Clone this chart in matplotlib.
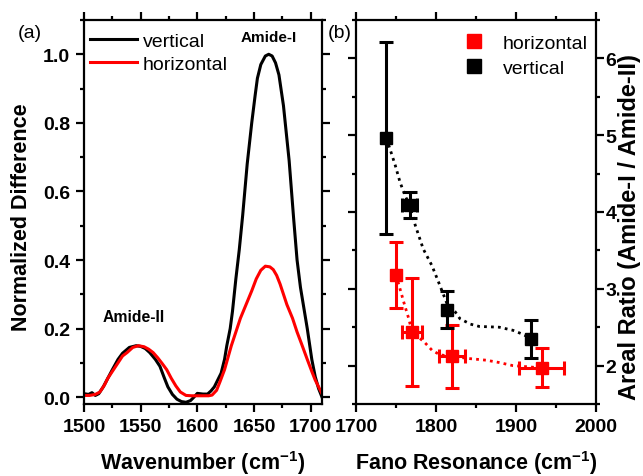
import matplotlib
matplotlib.use("Agg")
import matplotlib.pyplot as plt
from matplotlib.ticker import MultipleLocator
from matplotlib.lines import Line2D

plt.rcParams['font.family'] = ['Liberation Sans', 'DejaVu Sans']
plt.rcParams['mathtext.fontset'] = 'custom'
plt.rcParams['mathtext.rm'] = 'Liberation Sans'
plt.rcParams['mathtext.bf'] = 'Liberation Sans:bold'

# ---------------- Panel (a) data ----------------
wn_vertical = [1500, 1504, 1507, 1510, 1513, 1517, 1521, 1525, 1530, 1534, 1540, 1546,
               1550, 1554, 1558, 1563, 1567, 1571, 1574, 1578, 1582, 1586, 1590, 1594,
               1597, 1600, 1605, 1609, 1612, 1615, 1618, 1621, 1624, 1626, 1629, 1631,
               1634, 1637, 1640, 1644, 1648, 1651, 1653, 1656, 1660, 1663, 1666, 1669,
               1672, 1676, 1681, 1685, 1688, 1691, 1694, 1697, 1701, 1704, 1707, 1710]
nd_vertical = [0.010, 0.008, 0.013, 0.005, 0.010, 0.030, 0.055, 0.080, 0.110, 0.128, 0.145, 0.150,
               0.148, 0.142, 0.130, 0.110, 0.090, 0.055, 0.030, 0.008, -0.006, -0.013, -0.015, -0.010,
               0.000, 0.011, 0.009, 0.009, 0.018, 0.030, 0.050, 0.070, 0.110, 0.150, 0.200, 0.250,
               0.345, 0.430, 0.530, 0.680, 0.800, 0.880, 0.930, 0.970, 0.995, 1.000, 0.995, 0.975,
               0.940, 0.850, 0.690, 0.520, 0.400, 0.320, 0.260, 0.200, 0.110, 0.060, 0.025, 0.000]

wn_horizontal = [1500, 1505, 1510, 1514, 1518, 1521, 1525, 1530, 1534, 1538, 1543, 1548,
                 1553, 1557, 1561, 1565, 1569, 1573, 1577, 1581, 1585, 1590, 1595, 1600,
                 1605, 1610, 1613, 1617, 1620, 1624, 1627, 1630, 1634, 1638, 1643, 1648,
                 1652, 1656, 1660, 1664, 1667, 1670, 1673, 1676, 1679, 1684, 1688, 1692,
                 1697, 1701, 1704, 1707, 1710]
nd_horizontal = [0.005, 0.005, 0.008, 0.015, 0.035, 0.055, 0.075, 0.100, 0.120, 0.130, 0.145, 0.150,
                 0.147, 0.140, 0.130, 0.115, 0.098, 0.080, 0.055, 0.033, 0.015, 0.005, 0.004, 0.004,
                 0.004, 0.004, 0.006, 0.020, 0.045, 0.080, 0.115, 0.150, 0.190, 0.230, 0.270, 0.310,
                 0.345, 0.370, 0.382, 0.380, 0.372, 0.355, 0.330, 0.300, 0.270, 0.230, 0.190, 0.155,
                 0.110, 0.075, 0.050, 0.030, 0.010]

# ---------------- Panel (b) data ----------------
fano_vertical = [1738, 1767, 1814, 1919]
ratio_vertical = [4.96, 4.09, 2.73, 2.35]
yerr_vertical = [1.25, 0.17, 0.235, 0.25]
xerr_vertical = [0, 9, 0, 0]

fano_horizontal = [1750, 1770, 1820, 1932]
ratio_horizontal = [3.18, 2.44, 2.12, 1.97]
yerr_horizontal = [0.43, 0.70, 0.41, 0.255]
xerr_horizontal = [0, 12, 16, 28]

# dotted guide curves
guide_v_x = [1738, 1742.5, 1749, 1755, 1761, 1767, 1774, 1784, 1795, 1805, 1814,
             1824, 1830, 1843, 1854, 1879, 1896, 1908, 1919]
guide_v_y = [4.96, 4.82, 4.61, 4.39, 4.22, 4.09, 3.83, 3.52, 3.30, 3.04, 2.80,
             2.70, 2.61, 2.54, 2.51, 2.50, 2.46, 2.41, 2.35]
guide_h_x = [1750, 1755, 1761, 1766, 1770, 1786, 1795, 1805, 1820, 1843, 1863, 1879, 1896, 1932]
guide_h_y = [3.18, 3.00, 2.78, 2.61, 2.44, 2.30, 2.20, 2.14, 2.12, 2.09, 2.07, 2.04, 2.00, 1.97]

fig = plt.figure(figsize=(6.43, 4.77), dpi=100)
W, H = 643, 477
ax1 = fig.add_axes([84 / W, 1 - 405 / H, (322 - 84) / W, (405 - 21) / H])
ax2 = fig.add_axes([356 / W, 1 - 405 / H, (596 - 356) / W, (405 - 21) / H])

for ax in (ax1, ax2):
    for s in ax.spines.values():
        s.set_linewidth(1.6)
    ax.tick_params(which='major', direction='out', length=6, width=1.6,
                   labelsize=14, pad=4)
    ax.tick_params(which='minor', direction='out', length=3.2, width=1.6)
    ax.tick_params(which='both', top=True, right=True, left=True, bottom=True)

# ---- panel (a)
ax1.plot(wn_vertical, nd_vertical, color='black', lw=2.2, label='vertical')
ax1.plot(wn_horizontal, nd_horizontal, color='#ff0000', lw=2.2, label='horizontal')
ax1.set_xlim(1500, 1710)
ax1.set_ylim(-0.02, 1.10)
ax1.xaxis.set_minor_locator(MultipleLocator(25))
ax1.yaxis.set_minor_locator(MultipleLocator(0.1))
ax1.set_yticks([0.0, 0.2, 0.4, 0.6, 0.8, 1.0])
ax1.set_yticklabels(['0.0', '0.2', '0.4', '0.6', '0.8', '1.0'], fontweight='bold')
ax1.set_xticks([1500, 1550, 1600, 1650, 1700])
ax1.set_xticklabels(['1500', '1550', '1600', '1650', '1700'], fontweight='bold')
ax1.set_xlabel(r'Wavenumber (cm$^{\mathbf{-1}}$)', fontsize=15.5, fontweight='bold', labelpad=9.5)
ax1.set_ylabel('Normalized Difference', fontsize=15.5, fontweight='bold')
ax1.yaxis.set_label_coords((32.5 - 84) / 238, (405 - 217) / 384)
ax1.text(1663, 1.05, 'Amide-I', fontsize=11, fontweight='bold', ha='center', va='center')
ax1.text(1544, 0.235, 'Amide-II', fontsize=11.3, fontweight='bold', ha='center', va='center')
ax1.legend(loc='upper left', bbox_to_anchor=(0.025, 0.968), frameon=False, fontsize=14,
           handlelength=2.4, handletextpad=0.3, labelspacing=0.28, borderpad=0,
           borderaxespad=0)
fig.text(29.5 / W, 1 - 33 / H, '(a)', fontsize=14, ha='center', va='center')

# ---- panel (b)
ax2.plot(guide_v_x, guide_v_y, color='black', lw=2, linestyle=(0, (1, 1.5)))
ax2.plot(guide_h_x, guide_h_y, color='#ff0000', lw=2, linestyle=(0, (1, 1.5)))
ax2.errorbar(fano_horizontal, ratio_horizontal, yerr=yerr_horizontal, xerr=xerr_horizontal,
             fmt='s', color='#ff0000', ms=9, elinewidth=2.2, capsize=5, capthick=2.2)
ax2.errorbar(fano_vertical, ratio_vertical, yerr=yerr_vertical, xerr=xerr_vertical,
             fmt='s', color='black', ms=9, elinewidth=2.2, capsize=5, capthick=2.2)
ax2.set_xlim(1700, 2000)
ax2.set_ylim(1.5, 6.5)
ax2.set_xticks([1700, 1800, 1900, 2000])
ax2.set_xticklabels(['1700', '1800', '1900', '2000'], fontweight='bold')
ax2.xaxis.set_minor_locator(MultipleLocator(50))
ax2.set_yticks([2, 3, 4, 5, 6])
ax2.set_yticklabels(['2', '3', '4', '5', '6'], fontweight='bold')
ax2.yaxis.set_minor_locator(MultipleLocator(0.5))
ax2.tick_params(which='both', labelleft=False, labelright=True)
ax2.tick_params(axis='y', which='major', pad=1)
ax2.yaxis.set_label_position('right')
ax2.set_xlabel(r'Fano Resonance (cm$^{\mathbf{-1}}$)', fontsize=15.5, fontweight='bold', labelpad=9.5)
ax2.set_ylabel('Areal Ratio (Amide-I / Amide-II)', fontsize=17, fontweight='bold')
ax2.yaxis.set_label_coords((618 - 356) / 240, (405 - 227) / 384)
handles = [Line2D([], [], marker='s', color='#ff0000', linestyle='none', ms=10),
           Line2D([], [], marker='s', color='black', linestyle='none', ms=10)]
ax2.legend(handles, ['horizontal', 'vertical'], loc='upper left', bbox_to_anchor=(0.45, 0.962),
           frameon=False, fontsize=14, handlelength=1.0, handletextpad=1.0,
           labelspacing=0.36, borderpad=0, borderaxespad=0)
fig.text(340 / W, 1 - 33 / H, '(b)', fontsize=14, ha='center', va='center')

fig.savefig('out.png', dpi=100)
